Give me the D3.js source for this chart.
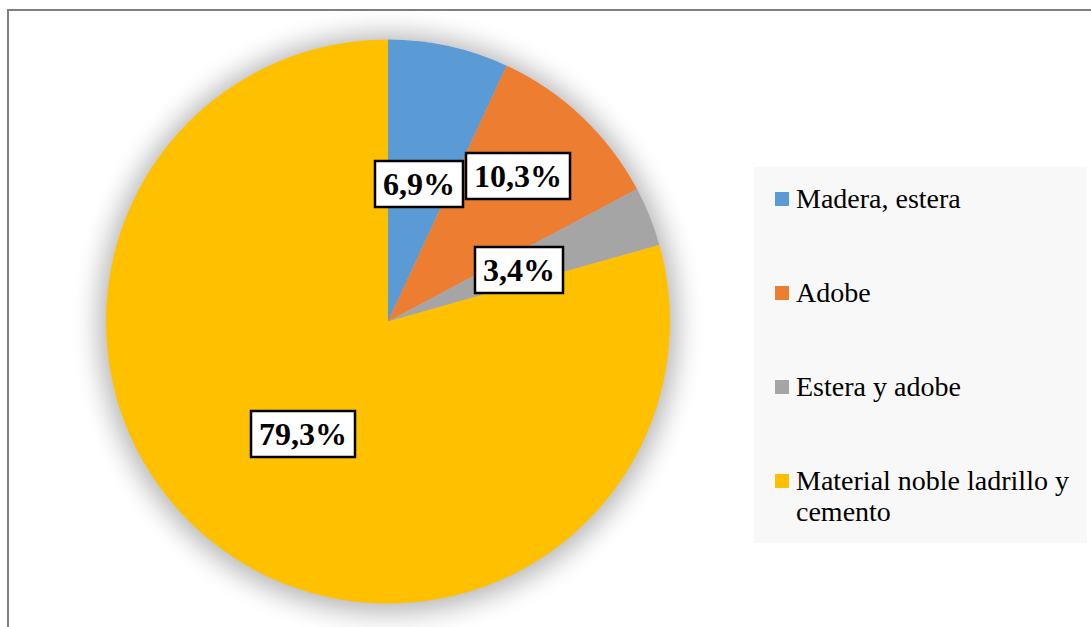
<!DOCTYPE html>
<html>
<head>
<meta charset="utf-8">
<script src="https://cdn.jsdelivr.net/npm/d3@7"></script>
<style>
  html, body { margin: 0; padding: 0; background: #fff; }
  svg { display: block; }
</style>
</head>
<body>
<svg id="chart" width="1091" height="627"></svg>
<script>
// Material de las viviendas (porcentajes)
const categories = ["Madera, estera", "Adobe", "Estera y adobe", "Material noble ladrillo y cemento"];
const values = [6.9, 10.3, 3.4, 79.3];
const labels = ["6,9%", "10,3%", "3,4%", "79,3%"];
const colors = ["#5B9BD5", "#ED7D31", "#A5A5A5", "#FFC000"];
// label box centres (absolute page coordinates)
const labelPos = [[419, 184], [518, 176], [519, 270], [303, 434]];

const svg = d3.select("#chart");
const W = 1091, H = 627;
const cx = 388, cy = 321.5, R = 282;

// outer frame
svg.append("rect")
  .attr("x", 8).attr("y", 10)
  .attr("width", W + 10).attr("height", H + 10)
  .attr("fill", "#fff")
  .attr("stroke", "#7f7f7f").attr("stroke-width", 2);

// soft shadow under the pie
const defs = svg.append("defs");
defs.append("filter").attr("id", "soft")
  .attr("x", "-30%").attr("y", "-30%").attr("width", "160%").attr("height", "160%")
  .append("feGaussianBlur").attr("stdDeviation", 13);

svg.append("circle")
  .attr("cx", cx).attr("cy", cy + 2).attr("r", R + 8)
  .attr("fill", "#000").attr("opacity", 0.28)
  .attr("filter", "url(#soft)");

// pie
const pie = d3.pie().sort(null).value(d => d)(values);
const arc = d3.arc().innerRadius(0).outerRadius(R);
const g = svg.append("g").attr("transform", `translate(${cx},${cy})`);
g.selectAll("path").data(pie).enter().append("path")
  .attr("d", arc)
  .attr("fill", (d, i) => colors[i]);

// data labels
const lab = svg.append("g");
labels.forEach((t, i) => {
  const [x, y] = labelPos[i];
  const grp = lab.append("g").attr("transform", `translate(${x},${y})`);
  const txt = grp.append("text")
    .attr("text-anchor", "middle")
    .attr("dy", "0.35em")
    .attr("font-family", "'Liberation Serif', 'Times New Roman', serif")
    .attr("font-weight", "bold")
    .attr("font-size", 32)
    .attr("fill", "#000")
    .text(t);
  const bb = txt.node().getBBox();
  const padX = 8, h = 46;
  grp.insert("rect", "text")
    .attr("x", bb.x - padX).attr("y", -h / 2)
    .attr("width", bb.width + 2 * padX).attr("height", h)
    .attr("fill", "#fff").attr("stroke", "#000").attr("stroke-width", 2.5);
});

// legend
const leg = svg.append("g");
leg.append("rect")
  .attr("x", 754).attr("y", 167).attr("width", 333).attr("height", 376)
  .attr("fill", "#f8f8f8");

const legY = [208, 302, 396, 490];
categories.forEach((c, i) => {
  const y = legY[i];
  leg.append("rect")
    .attr("x", 775).attr("y", y - 16).attr("width", 14).attr("height", 14)
    .attr("fill", colors[i]);
  const t = leg.append("text")
    .attr("x", 796).attr("y", y)
    .attr("font-family", "'Liberation Serif', 'Times New Roman', serif")
    .attr("font-size", 28)
    .attr("fill", "#000");
  if (i === 3) {
    t.append("tspan").attr("x", 796).text("Material noble ladrillo y");
    t.append("tspan").attr("x", 796).attr("dy", 31).text("cemento");
  } else {
    t.text(c);
  }
});
</script>
</body>
</html>
